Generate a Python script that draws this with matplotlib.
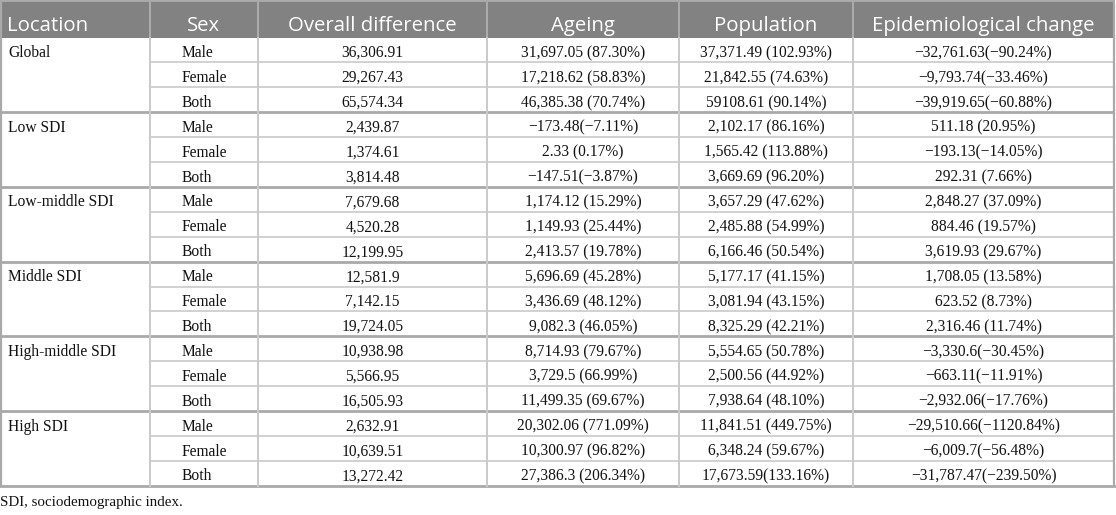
import matplotlib.pyplot as plt

# table contents
headers = ['Location', 'Sex', 'Overall difference', 'Ageing', 'Population',
           'Epidemiological change']
locations = ['Global', 'Low SDI', 'Low-middle SDI', 'Middle SDI',
             'High-middle SDI', 'High SDI']
sexes = ['Male', 'Female', 'Both']
overall = ['36,306.91', '29,267.43', '65,574.34',
           '2,439.87', '1,374.61', '3,814.48',
           '7,679.68', '4,520.28', '12,199.95',
           '12,581.9', '7,142.15', '19,724.05',
           '10,938.98', '5,566.95', '16,505.93',
           '2,632.91', '10,639.51', '13,272.42']
ageing = ['31,697.05 (87.30%)', '17,218.62 (58.83%)', '46,385.38 (70.74%)',
          '\u2212173.48(\u22127.11%)', '2.33 (0.17%)', '\u2212147.51(\u22123.87%)',
          '1,174.12 (15.29%)', '1,149.93 (25.44%)', '2,413.57 (19.78%)',
          '5,696.69 (45.28%)', '3,436.69 (48.12%)', '9,082.3 (46.05%)',
          '8,714.93 (79.67%)', '3,729.5 (66.99%)', '11,499.35 (69.67%)',
          '20,302.06 (771.09%)', '10,300.97 (96.82%)', '27,386.3 (206.34%)']
population = ['37,371.49 (102.93%)', '21,842.55 (74.63%)', '59108.61 (90.14%)',
              '2,102.17 (86.16%)', '1,565.42 (113.88%)', '3,669.69 (96.20%)',
              '3,657.29 (47.62%)', '2,485.88 (54.99%)', '6,166.46 (50.54%)',
              '5,177.17 (41.15%)', '3,081.94 (43.15%)', '8,325.29 (42.21%)',
              '5,554.65 (50.78%)', '2,500.56 (44.92%)', '7,938.64 (48.10%)',
              '11,841.51 (449.75%)', '6,348.24 (59.67%)', '17,673.59(133.16%)']
epi = ['\u221232,761.63(\u221290.24%)', '\u22129,793.74(\u221233.46%)', '\u221239,919.65(\u221260.88%)',
       '511.18 (20.95%)', '\u2212193.13(\u221214.05%)', '292.31 (7.66%)',
       '2,848.27 (37.09%)', '884.46 (19.57%)', '3,619.93 (29.67%)',
       '1,708.05 (13.58%)', '623.52 (8.73%)', '2,316.46 (11.74%)',
       '\u22123,330.6(\u221230.45%)', '\u2212663.11(\u221211.91%)', '\u22122,932.06(\u221217.76%)',
       '\u221229,510.66(\u22121120.84%)', '\u22126,009.7(\u221256.48%)', '\u221231,787.47(\u2212239.50%)']
footnote = 'SDI, sociodemographic index.'

W, H = 1116, 515
fig = plt.figure(figsize=(W / 100, H / 100), dpi=100)
ax = fig.add_axes([0, 0, 1, 1])
ax.set_xlim(0, W)
ax.set_ylim(H, 0)
ax.axis('off')

col_x = [1, 150, 258, 487, 679, 853, 1114]
head_top, head_bot = 1, 37.5
row_h = 24.9
n_rows = len(overall)
table_bot = head_bot + n_rows * row_h

serif = 'Liberation Serif'
sans = 'Open Sans'
inner = '#cacaca'
group = '#a9a9a9'
ink = '#111111'

# header
ax.fill_between([col_x[0], col_x[-1]], head_top, head_bot, color='#828282', lw=0)
for i, h in enumerate(headers):
    if i == 0:
        ax.text(col_x[0] + 6, 30.7, h, ha='left', va='baseline',
                color='white', fontsize=14.7, family=sans)
    else:
        ax.text((col_x[i] + col_x[i + 1]) / 2, 30.7, h,
                ha='center', va='baseline', color='white', fontsize=14.7, family=sans)
for x in col_x[1:-1]:
    ax.plot([x, x], [head_top, head_bot], color='#b4b4b4', lw=1.2)

# horizontal lines
for r in range(1, n_rows):
    y = head_bot + r * row_h
    if r % 3 == 0:
        ax.plot([col_x[0], col_x[-1]], [y, y], color=group, lw=2.0, solid_capstyle='butt')
    else:
        ax.plot([col_x[1], col_x[-1]], [y, y], color=inner, lw=1.2, solid_capstyle='butt')
ax.plot([col_x[0], col_x[-1]], [table_bot, table_bot], color=group, lw=2.0)

# vertical lines
for x in col_x:
    ax.plot([x, x], [head_bot, table_bot], color=inner, lw=1.4)
ax.plot([col_x[0], col_x[0]], [head_top, table_bot], color=group, lw=1.6)
ax.plot([col_x[-1], col_x[-1]], [head_top, table_bot], color=group, lw=1.6)
ax.plot([col_x[0], col_x[-1]], [head_top, head_top], color=group, lw=1.4)

# body
columns = [overall, ageing, population, epi]
for r in range(n_rows):
    yb = head_bot + r * row_h + 19.6
    if r % 3 == 0:
        ax.text(col_x[0] + 7, yb, locations[r // 3], ha='left', va='baseline',
                fontsize=11.2, family=serif, color=ink)
    ax.text(col_x[1] + 32, yb, sexes[r % 3], ha='left', va='baseline',
            fontsize=11.2, family=serif, color=ink)
    for c, vals in enumerate(columns):
        ax.text((col_x[c + 2] + col_x[c + 3]) / 2, yb, vals[r], ha='center',
                va='baseline', fontsize=11.2, family=serif, color=ink)

ax.text(0, 506, footnote, ha='left', va='baseline', fontsize=10.8, family=serif,
        color=ink)

fig.savefig('out.png', dpi=100)
